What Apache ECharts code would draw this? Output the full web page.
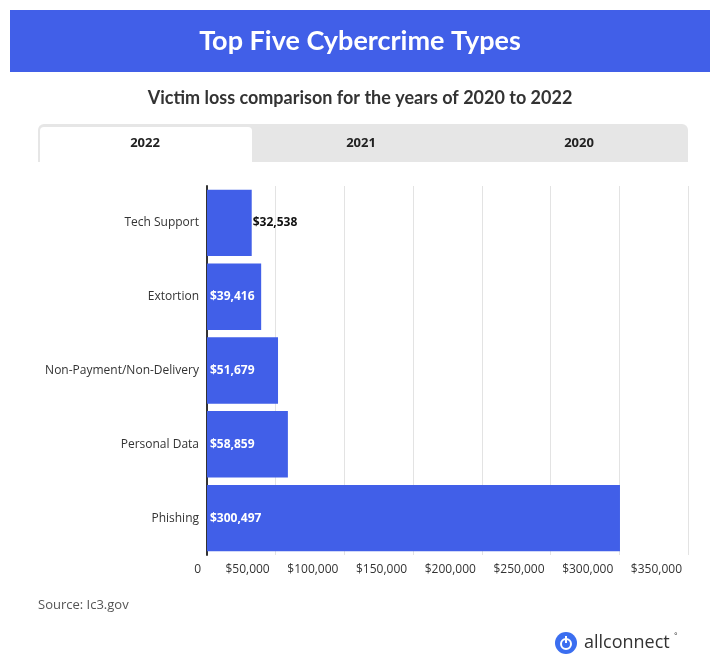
<!DOCTYPE html>
<html><head><meta charset="utf-8">
<script src="https://cdn.jsdelivr.net/npm/echarts@6/dist/echarts.min.js"></script>
<style>html,body{margin:0;padding:0;background:#fff}#c{width:720px;height:672px}</style>
</head><body><div id="c"></div>
<script>
const categories = ['Tech Support','Extortion','Non-Payment/Non-Delivery','Personal Data','Phishing'];
const losses = [32538, 39416, 51679, 58859, 300497];
const tabs = ['2022','2021','2020'];
const tickLabels = {0:'0',50000:'$50,000',100000:'$100,000',150000:'$150,000',200000:'$200,000',250000:'$250,000',300000:'$300,000',350000:'$350,000'};
const BLUE = '#415fe8';
const fmt = v => '$' + v.toLocaleString('en-US');
const chart = echarts.init(document.getElementById('c'));
const tabX = [38, 252, 470, 688];
const g = [
  {type:'rect', shape:{x:10,y:10,width:700,height:62}, style:{fill:BLUE}},
  {type:'text', style:{x:360,y:41,text:'Top Five Cybercrime Types',fill:'#fff',font:'bold 27px Lato, "Open Sans", sans-serif',align:'center',verticalAlign:'middle'}},
  {type:'text', style:{x:360,y:98,text:'Victim loss comparison for the years of 2020 to 2022',fill:'#333',font:'bold 18px Lato, "Open Sans", sans-serif',align:'center',verticalAlign:'middle'}},
  {type:'rect', shape:{x:38,y:124,width:650,height:38,r:[6,6,0,0]}, style:{fill:'#e6e6e6'}},
  {type:'rect', shape:{x:40,y:127,width:212,height:36,r:[4,4,0,0]}, style:{fill:'#fff'}},
  {type:'text', style:{x:38,y:605,text:'Source: Ic3.gov',fill:'#555',font:'13px "Open Sans", sans-serif',verticalAlign:'middle'}},
  {type:'circle', shape:{cx:566,cy:643,r:11}, style:{fill:'#3b6ef0'}},
  {type:'circle', shape:{cx:566,cy:644,r:5}, style:{fill:'none',stroke:'#fff',lineWidth:2}},
  {type:'rect', shape:{x:565,y:636,width:2,height:7}, style:{fill:'#fff'}},
  {type:'text', style:{x:584,y:643,text:'allconnect',fill:'#333',font:'18px "Open Sans", sans-serif',verticalAlign:'middle'}},
  {type:'text', style:{x:674,y:637,text:'°',fill:'#333',font:'9px sans-serif',verticalAlign:'middle'}}
];
tabs.forEach((t,i)=>g.push({type:'text', style:{x:(tabX[i]+tabX[i+1])/2, y:143, text:t, fill:'#222', font:'bold 13px "Open Sans", sans-serif', align:'center', verticalAlign:'middle'}}));
chart.setOption({
  animation:false,
  graphic:g,
  grid:{left:207,right:32,top:186,bottom:117},
  xAxis:{type:'value',min:0,max:350000,interval:50000,
    axisLine:{show:false},axisTick:{show:false},
    splitLine:{show:true,lineStyle:{color:'#e3e3e3',width:1}},
    axisLabel:{formatter:v=>tickLabels[v],color:'#333',fontSize:12,fontFamily:'"Open Sans", sans-serif',align:'right',padding:[0,6,0,0],margin:9}},
  yAxis:{type:'category',data:categories,inverse:true,
    axisLine:{show:true,lineStyle:{color:'#333',width:2}},axisTick:{show:false},
    axisLabel:{color:'#333',fontSize:12,fontFamily:'"Open Sans", sans-serif',margin:8}},
  series:[{type:'bar',barCategoryGap:'10%',itemStyle:{color:BLUE},
    data:losses.map((v,i)=>i===0?{value:v,label:{position:'right',color:'#111',distance:1}}:v),
    label:{show:true,formatter:p=>fmt(p.value),fontSize:12,fontWeight:'bold',fontFamily:'"Open Sans", sans-serif',
      position:'insideLeft',color:'#fff',distance:3}}]
});
</script></body></html>
